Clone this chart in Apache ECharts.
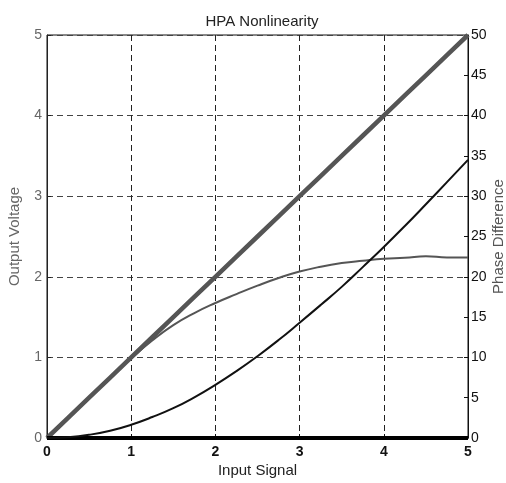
<!DOCTYPE html>
<html>
<head>
<meta charset="utf-8">
<style>
  html, body { margin: 0; padding: 0; background: #fff; }
  #chart { width: 506px; height: 483px; }
</style>
<script src="https://cdn.jsdelivr.net/npm/echarts@6/dist/echarts.min.js"></script>
</head>
<body>
<div id="chart"></div>
<script>
// Input signal amplitude samples
const inputSignal = [0, 0.25, 0.5, 0.75, 1, 1.25, 1.5, 1.75, 2, 2.25, 2.5, 2.75, 3, 3.25, 3.5, 3.75, 4, 4.25, 4.5, 4.75, 5];

// Ideal linear amplifier output (V)
const idealOutput = [0, 0.25, 0.5, 0.75, 1, 1.25, 1.5, 1.75, 2, 2.25, 2.5, 2.75, 3, 3.25, 3.5, 3.75, 4, 4.25, 4.5, 4.75, 5];

// HPA output voltage (AM/AM)
const hpaOutput = [0, 0.25, 0.5, 0.75, 0.99, 1.21, 1.4, 1.55, 1.675, 1.785, 1.89, 1.985, 2.065, 2.125, 2.17, 2.2, 2.225, 2.235, 2.255, 2.24, 2.24];

// Ideal phase difference (deg)
const idealPhase = [0, 0, 0, 0, 0, 0, 0, 0, 0, 0, 0, 0, 0, 0, 0, 0, 0, 0, 0, 0, 0];

// HPA phase difference (AM/PM, deg)
const hpaPhase = [0, 0.1, 0.4, 0.9, 1.65, 2.6, 3.7, 5.05, 6.6, 8.3, 10.15, 12.15, 14.3, 16.5, 18.75, 21.2, 23.7, 26.3, 29.0, 31.75, 34.5];

const pairs = (xs, ys) => xs.map((x, i) => [x, ys[i]]);

const FONT = 'Liberation Sans, Arial, sans-serif';

const chart = echarts.init(document.getElementById('chart'), null, { renderer: 'canvas' });

chart.setOption({
  animation: false,
  backgroundColor: '#fff',
  title: {
    text: 'HPA Nonlinearity',
    left: 257, top: 9, textAlign: 'center',
    textStyle: { fontFamily: FONT, fontSize: 15, fontWeight: 'normal', color: '#222' }
  },
  grid: {
    left: 47, right: 38, top: 35, bottom: 45,
    outerBoundsMode: 'none',
    show: true, borderColor: '#111', borderWidth: 1, backgroundColor: 'transparent'
  },
  xAxis: {
    type: 'value', min: 0, max: 5, interval: 1,
    name: 'Input Signal', nameLocation: 'middle', nameGap: 25, nameMoveOverlap: false,
    nameTextStyle: { fontFamily: FONT, fontSize: 15, color: '#222' },
    axisLine: { show: true, lineStyle: { color: '#111', width: 1 } },
    axisTick: { show: true, inside: true, length: 4, lineStyle: { color: '#111' } },
    axisLabel: { fontFamily: FONT, fontSize: 14, fontWeight: 'bold', color: '#111', margin: 7 },
    splitLine: { show: true, lineStyle: { color: '#222', type: [6, 4], width: 1 } }
  },
  yAxis: [
    {
      type: 'value', min: 0, max: 5, interval: 1, position: 'left',
      name: 'Output Voltage', nameLocation: 'middle', nameGap: 25, nameMoveOverlap: false,
      nameTextStyle: { fontFamily: FONT, fontSize: 15, color: '#666' },
      axisLine: { show: true, lineStyle: { color: '#222', width: 1 } },
      axisTick: { show: true, inside: true, length: 4, lineStyle: { color: '#222' } },
      axisLabel: { fontFamily: FONT, fontSize: 14, color: '#666', margin: 5 },
      splitLine: { show: true, lineStyle: { color: '#444', type: [6, 4], width: 1 } }
    },
    {
      type: 'value', min: 0, max: 50, interval: 5, position: 'right',
      name: 'Phase Difference', nameLocation: 'middle', nameGap: 23, nameMoveOverlap: false,
      nameTextStyle: { fontFamily: FONT, fontSize: 15, color: '#555' },
      axisLine: { show: true, lineStyle: { color: '#111', width: 1 } },
      axisTick: { show: true, inside: true, length: 4, lineStyle: { color: '#111' } },
      axisLabel: { fontFamily: FONT, fontSize: 14, color: '#111', margin: 3 },
      splitLine: { show: false }
    }
  ],
  series: [
    {
      name: 'Ideal output', type: 'line', yAxisIndex: 0,
      data: pairs(inputSignal, idealOutput),
      showSymbol: false, lineStyle: { color: '#555', width: 4.5 }, z: 2
    },
    {
      name: 'HPA output', type: 'line', yAxisIndex: 0,
      data: pairs(inputSignal, hpaOutput), smooth: 0.5,
      showSymbol: false, lineStyle: { color: '#555', width: 2 }, z: 3
    },
    {
      name: 'Ideal phase', type: 'line', yAxisIndex: 1,
      data: pairs(inputSignal, idealPhase), clip: false,
      showSymbol: false, lineStyle: { color: '#000', width: 4 }, z: 4
    },
    {
      name: 'HPA phase', type: 'line', yAxisIndex: 1,
      data: pairs(inputSignal, hpaPhase), smooth: 0.5,
      showSymbol: false, lineStyle: { color: '#111', width: 2 }, z: 5
    }
  ]
});
</script>
</body>
</html>
